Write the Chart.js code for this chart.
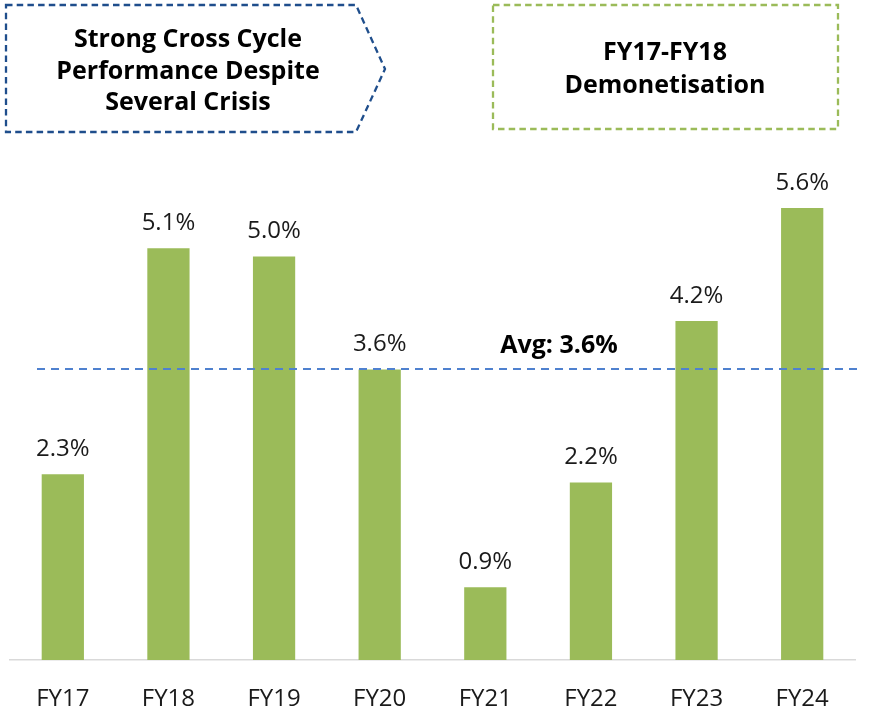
<!DOCTYPE html>
<html>
<head>
<meta charset="utf-8">
<script src="https://cdn.jsdelivr.net/npm/chart.js@4.4.1/dist/chart.umd.min.js"></script>
<style>
  html, body { margin: 0; padding: 0; background: #ffffff; }
  #wrap { width: 869px; height: 713px; position: relative; }
</style>
</head>
<body>
<div id="wrap"><canvas id="c" width="869" height="713"></canvas></div>
<script>
// Fiscal years and yearly values (%)
const categories = ['FY17', 'FY18', 'FY19', 'FY20', 'FY21', 'FY22', 'FY23', 'FY24'];
const values = [2.3, 5.1, 5.0, 3.6, 0.9, 2.2, 4.2, 5.6];
const average = 3.6;
const averageLabel = 'Avg: 3.6%';
const leftNote = ['Strong Cross Cycle', 'Performance Despite', 'Several Crisis'];
const rightNote = ['FY17-FY18', 'Demonetisation'];

const FONT = '"Open Sans", "Noto Sans", sans-serif';
const BAR_GREEN = '#9BBB59';

// Value labels above each bar
const valueLabels = {
  id: 'valueLabels',
  afterDatasetsDraw(chart) {
    const ctx = chart.ctx;
    const meta = chart.getDatasetMeta(0);
    ctx.save();
    ctx.font = '24px ' + FONT;
    ctx.fillStyle = '#1a1a1a';
    ctx.textAlign = 'center';
    ctx.textBaseline = 'middle';
    meta.data.forEach((bar, i) => {
      ctx.fillText(values[i].toFixed(1) + '%', bar.x, bar.y - 25);
    });
    ctx.restore();
  }
};

// Dashed average line with its caption
const averageLine = {
  id: 'averageLine',
  afterDatasetsDraw(chart) {
    const ctx = chart.ctx;
    const y = Math.round(chart.scales.y.getPixelForValue(average));
    ctx.save();
    ctx.strokeStyle = '#4F81CF';
    ctx.lineWidth = 2;
    ctx.setLineDash([8, 6]);
    ctx.beginPath();
    ctx.moveTo(37, y);
    ctx.lineTo(858, y);
    ctx.stroke();
    ctx.setLineDash([]);
    ctx.font = 'bold 25px ' + FONT;
    ctx.fillStyle = '#000000';
    ctx.textAlign = 'center';
    ctx.textBaseline = 'middle';
    ctx.fillText(averageLabel, 559, y - 23);
    ctx.restore();
  }
};

// Dashed callout boxes across the top
const callouts = {
  id: 'callouts',
  afterDraw(chart) {
    const ctx = chart.ctx;
    ctx.save();
    ctx.lineWidth = 2.3;
    ctx.setLineDash([6.5, 4.2]);

    // left arrow-shaped box
    ctx.strokeStyle = '#1F4E8C';
    ctx.beginPath();
    ctx.moveTo(6, 5);
    ctx.lineTo(356, 5);
    ctx.lineTo(385, 69);
    ctx.lineTo(356, 132);
    ctx.lineTo(6, 132);
    ctx.closePath();
    ctx.stroke();

    // right rectangular box
    ctx.strokeStyle = BAR_GREEN;
    ctx.beginPath();
    ctx.rect(493, 5, 345, 124);
    ctx.stroke();

    ctx.setLineDash([]);
    ctx.fillStyle = '#000000';
    ctx.textAlign = 'center';
    ctx.textBaseline = 'middle';
    ctx.font = 'bold 25px ' + FONT;
    leftNote.forEach((t, i) => ctx.fillText(t, 188, 40 + i * 31.5));
    rightNote.forEach((t, i) => ctx.fillText(t, 665, 53 + i * 33));
    ctx.restore();
  }
};

new Chart(document.getElementById('c'), {
  type: 'bar',
  data: {
    labels: categories,
    datasets: [{
      data: values,
      backgroundColor: BAR_GREEN,
      borderWidth: 0,
      categoryPercentage: 1,
      barPercentage: 0.4
    }]
  },
  options: {
    responsive: false,
    animation: false,
    devicePixelRatio: 1,
    layout: { padding: { left: 10, right: 14, top: 95, bottom: 0 } },
    plugins: {
      legend: { display: false },
      tooltip: { enabled: false },
      title: { display: false }
    },
    scales: {
      x: {
        grid: { display: false, drawTicks: false },
        border: { display: true, color: '#D9D9D9', width: 1.5 },
        ticks: {
          color: '#1a1a1a',
          font: { family: FONT, size: 24 },
          padding: 25,
          maxRotation: 0
        },
        afterFit(scale) { scale.height = 53; }
      },
      y: {
        display: false,
        min: 0,
        max: 7
      }
    }
  },
  plugins: [valueLabels, averageLine, callouts]
});
</script>
</body>
</html>
